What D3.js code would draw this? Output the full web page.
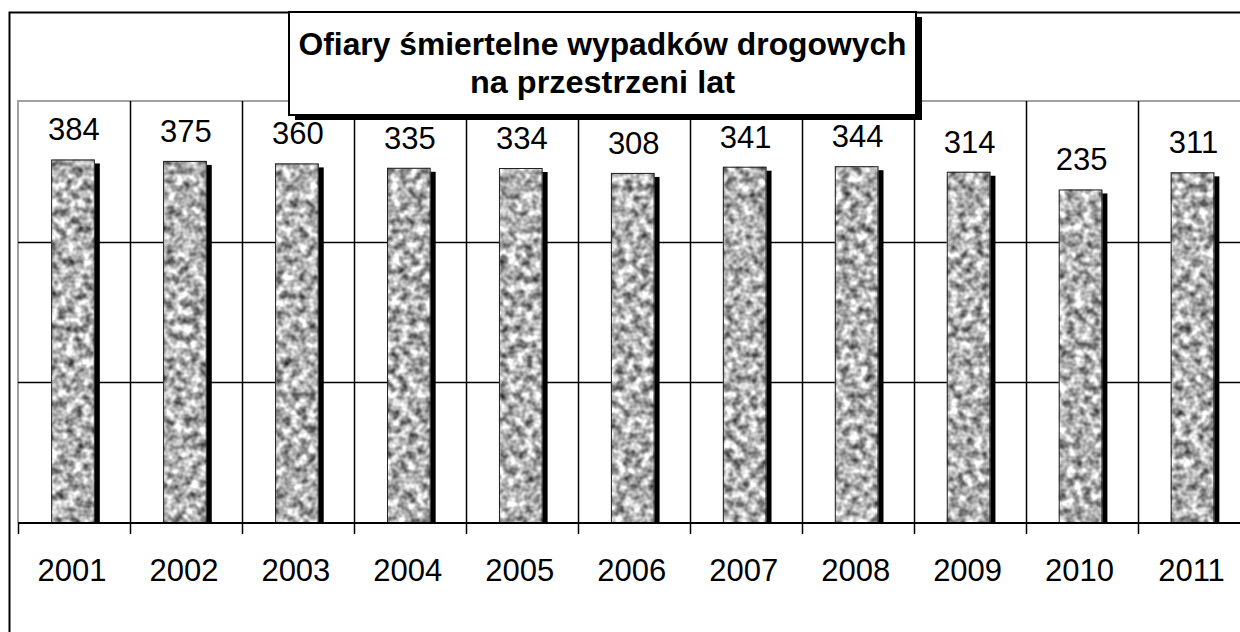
<!DOCTYPE html>
<html>
<head>
<meta charset="utf-8">
<script src="https://cdn.jsdelivr.net/npm/d3@7"></script>
<style>
  html, body { margin: 0; padding: 0; background: #fff; }
  svg { display: block; font-family: "Liberation Sans", Arial, sans-serif; }
</style>
</head>
<body>
<svg width="1240" height="632"></svg>
<script>
// data
var years = ["2001", "2002", "2003", "2004", "2005", "2006", "2007", "2008", "2009", "2010", "2011"];
var deaths = [384, 375, 360, 335, 334, 308, 341, 344, 314, 235, 311];
var gridValues = [10, 100];
var titleLines = ["Ofiary śmiertelne wypadków drogowych", "na przestrzeni lat"];

var svg = d3.select("svg");

var plot = {left: 18, top: 101, right: 1249.5, bottom: 523};

var x = d3.scaleBand().domain(years).range([plot.left, plot.right]).padding(0);
var y = d3.scaleLog().domain([1, 1000]).range([plot.bottom, plot.top]);

var data = years.map(function(yr, i) { return {year: yr, value: deaths[i]}; });

// granite-ish texture
var defs = svg.append("defs");
var f = defs.append("filter")
    .attr("id", "granite")
    .attr("color-interpolation-filters", "sRGB")
    .attr("x", 0).attr("y", 0).attr("width", 1).attr("height", 1);
f.append("feTurbulence")
    .attr("type", "fractalNoise")
    .attr("baseFrequency", 0.12)
    .attr("numOctaves", 2)
    .attr("seed", 7)
    .attr("result", "noise");
f.append("feColorMatrix")
    .attr("in", "noise")
    .attr("type", "matrix")
    .attr("values", "1.35 0 0 0 0.02  1.35 0 0 0 0.02  1.35 0 0 0 0.02  0 0 0 0 1")
    .attr("result", "gray");
f.append("feComposite")
    .attr("in", "gray")
    .attr("in2", "SourceGraphic")
    .attr("operator", "in");

// outer chart border
svg.append("rect")
    .attr("x", 9.5).attr("y", 12.5)
    .attr("width", 1300).attr("height", 700)
    .attr("fill", "none")
    .attr("stroke", "#000")
    .attr("stroke-width", 2);

// plot area border (grey)
svg.append("path")
    .attr("d", "M" + plot.left + "," + plot.bottom + "V" + plot.top + "H" + plot.right)
    .attr("fill", "none")
    .attr("stroke", "#a0a0a0")
    .attr("stroke-width", 2);

// horizontal gridlines
svg.append("g").selectAll("line")
    .data(gridValues)
    .enter().append("line")
    .attr("x1", plot.left).attr("x2", plot.right)
    .attr("y1", function(d) { return Math.round(y(d)) + 0.5; })
    .attr("y2", function(d) { return Math.round(y(d)) + 0.5; })
    .attr("stroke", "#000")
    .attr("stroke-width", 1.5);

// vertical category dividers
svg.append("g").selectAll("line")
    .data(years.slice(1))
    .enter().append("line")
    .attr("x1", function(d) { return Math.round(x(d)) + 0.5; })
    .attr("x2", function(d) { return Math.round(x(d)) + 0.5; })
    .attr("y1", plot.top)
    .attr("y2", plot.bottom)
    .attr("stroke", "#000")
    .attr("stroke-width", 1.5);

var barW = x.bandwidth() * 0.39;
var barOff = (x.bandwidth() - barW) / 2 - 1;

var bar = svg.append("g").selectAll("g")
    .data(data)
    .enter().append("g");

// shadow
bar.append("rect")
    .attr("x", function(d) { return x(d.year) + barOff + 5; })
    .attr("y", function(d) { return y(d.value) + 4; })
    .attr("width", barW)
    .attr("height", function(d) { return plot.bottom - y(d.value) - 4; })
    .attr("fill", "#000");

bar.append("rect")
    .attr("x", function(d) { return x(d.year) + barOff; })
    .attr("y", function(d) { return y(d.value); })
    .attr("width", barW)
    .attr("height", function(d) { return plot.bottom - y(d.value); })
    .attr("fill", "#999")
    .attr("filter", "url(#granite)");

bar.append("rect")
    .attr("x", function(d) { return x(d.year) + barOff + 0.5; })
    .attr("y", function(d) { return y(d.value) + 0.5; })
    .attr("width", barW - 1)
    .attr("height", function(d) { return plot.bottom - y(d.value) - 0.5; })
    .attr("fill", "none")
    .attr("stroke", "#222")
    .attr("stroke-width", 1);

// value labels
bar.append("text")
    .attr("x", function(d) { return x(d.year) + x.bandwidth() / 2; })
    .attr("y", function(d) { return y(d.value) - 19; })
    .attr("text-anchor", "middle")
    .style("font-size", "31px")
    .attr("fill", "#000")
    .text(function(d) { return d.value; });

// category axis
var xAxis = svg.append("g")
    .attr("transform", "translate(0," + plot.bottom + ")");
xAxis.append("line")
    .attr("x1", plot.left).attr("x2", plot.right)
    .attr("stroke", "#000").attr("stroke-width", 2);
xAxis.selectAll(".tick")
    .data(years)
    .enter().append("line")
    .attr("x1", function(d) { return Math.round(x(d)) + 0.5; })
    .attr("x2", function(d) { return Math.round(x(d)) + 0.5; })
    .attr("y1", 0).attr("y2", 11)
    .attr("stroke", "#000").attr("stroke-width", 1.5);
xAxis.selectAll("text")
    .data(years)
    .enter().append("text")
    .attr("x", function(d) { return x(d) + x.bandwidth() / 2 - 2; })
    .attr("y", 58)
    .attr("text-anchor", "middle")
    .style("font-size", "31px")
    .attr("fill", "#000")
    .text(function(d) { return d; });

// title box
var tb = {x: 289, y: 12, w: 627, h: 103};
svg.append("rect")
    .attr("x", tb.x + 6).attr("y", tb.y + 5)
    .attr("width", tb.w).attr("height", tb.h)
    .attr("fill", "#000");
svg.append("rect")
    .attr("x", tb.x).attr("y", tb.y)
    .attr("width", tb.w).attr("height", tb.h)
    .attr("fill", "#fff")
    .attr("stroke", "#000")
    .attr("stroke-width", 2);
svg.append("g").selectAll("text")
    .data(titleLines)
    .enter().append("text")
    .attr("x", tb.x + tb.w / 2)
    .attr("y", function(d, i) { return 55 + i * 38; })
    .attr("text-anchor", "middle")
    .attr("textLength", function(d, i) { return i === 0 ? 608 : 265; })
    .attr("lengthAdjust", "spacingAndGlyphs")
    .style("font-size", "32px")
    .style("font-weight", "bold")
    .attr("fill", "#000")
    .text(function(d) { return d; });
</script>
</body>
</html>
